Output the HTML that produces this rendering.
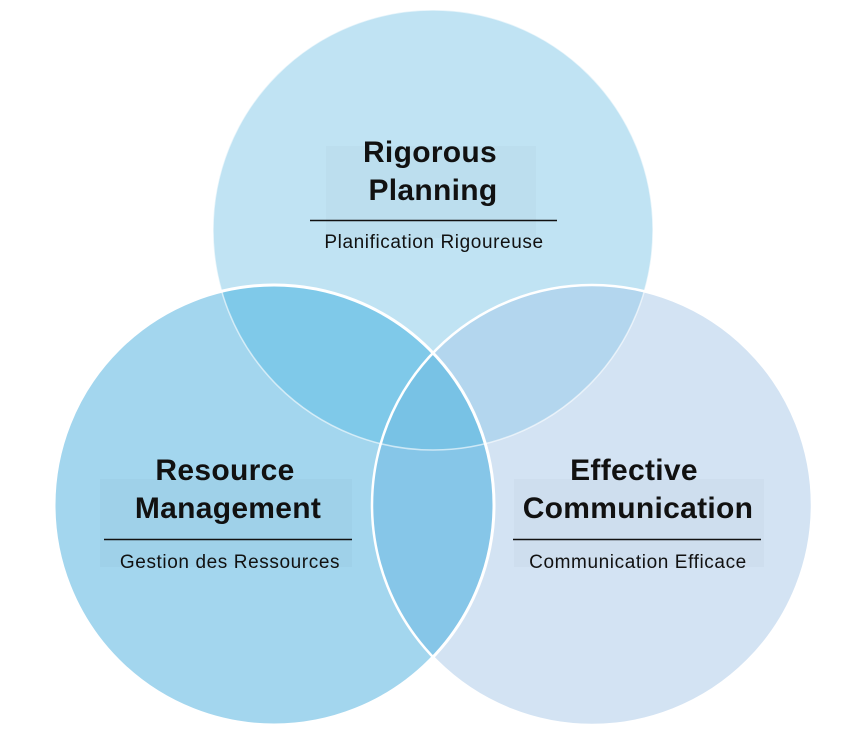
<!DOCTYPE html>
<html><head><meta charset="utf-8"><style>
html,body{margin:0;padding:0;background:#fff;}
svg{display:block;}
text{font-family:"Liberation Sans",sans-serif;fill:#111;}
.t{font-size:30px;font-weight:bold;letter-spacing:0.3px;}
.s{font-size:19px;letter-spacing:0.6px;}
</style></head><body>
<svg width="866" height="738" viewBox="0 0 866 738">
<defs>
<clipPath id="cT"><circle cx="433" cy="230" r="220"/></clipPath>
<clipPath id="cL"><circle cx="274" cy="505" r="220"/></clipPath>
<clipPath id="cR"><circle cx="592" cy="505" r="220"/></clipPath>
</defs>
<circle cx="433" cy="230" r="220" fill="#c0e3f3"/>
<circle cx="592" cy="505" r="220" fill="#d3e3f3"/>
<circle cx="274" cy="505" r="220" fill="#a3d6ee"/>
<g clip-path="url(#cT)">
<circle cx="592" cy="505" r="220" fill="#b3d6ee"/>
<circle cx="274" cy="505" r="220" fill="#7fc9e9"/>
</g>
<g clip-path="url(#cL)">
<circle cx="592" cy="505" r="220" fill="#86c6e8"/>
<g clip-path="url(#cT)"><circle cx="592" cy="505" r="220" fill="#78c2e5"/></g>
</g>
<circle cx="433" cy="230" r="220" fill="none" stroke="#fff" stroke-width="1.5" stroke-opacity="0.6"/>
<circle cx="592" cy="505" r="220" fill="none" stroke="#fff" stroke-width="2.5"/>
<circle cx="274" cy="505" r="220" fill="none" stroke="#fff" stroke-width="3"/>
<rect x="326" y="146" width="210" height="92" fill="#000" opacity="0.018"/>
<rect x="100" y="479" width="252" height="88" fill="#000" opacity="0.018"/>
<rect x="514" y="479" width="250" height="88" fill="#000" opacity="0.018"/>
<text class="t" x="430" y="162" text-anchor="middle">Rigorous</text>
<text class="t" x="433" y="200" text-anchor="middle">Planning</text>
<line x1="310" y1="220.5" x2="557" y2="220.5" stroke="#111" stroke-width="1.5"/>
<text class="s" x="434" y="248" text-anchor="middle">Planification Rigoureuse</text>
<text class="t" x="225" y="480" text-anchor="middle">Resource</text>
<text class="t" x="228" y="518" text-anchor="middle">Management</text>
<line x1="104" y1="539.5" x2="352" y2="539.5" stroke="#111" stroke-width="1.5"/>
<text class="s" x="230" y="568" text-anchor="middle">Gestion des Ressources</text>
<text class="t" x="634" y="480" text-anchor="middle">Effective</text>
<text class="t" x="638" y="518" text-anchor="middle">Communication</text>
<line x1="513" y1="539.5" x2="761" y2="539.5" stroke="#111" stroke-width="1.5"/>
<text class="s" x="638" y="568" text-anchor="middle">Communication Efficace</text>
</svg>
</body></html>
